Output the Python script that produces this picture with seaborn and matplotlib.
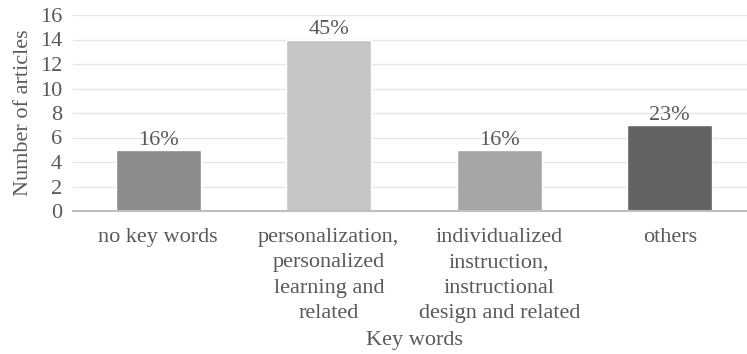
import matplotlib
matplotlib.use("Agg")
import matplotlib.pyplot as plt
import seaborn as sns
import pandas as pd

categories = [
    "no key words",
    "personalization,\npersonalized\nlearning and\nrelated",
    "individualized\ninstruction,\ninstructional\ndesign and related",
    "others",
]
counts = [5, 14, 5, 7]
percent_labels = ["16%", "45%", "16%", "23%"]
bar_colors = ["#8b8b8b", "#c6c6c6", "#a6a6a6", "#636363"]
y_ticks = [0, 2, 4, 6, 8, 10, 12, 14, 16]

sns.set_style("white")
plt.rcParams["font.family"] = ["Liberation Serif", "DejaVu Serif"]
text_color = "#595959"
fs = 16

df = pd.DataFrame({"keyword": categories, "count": counts})

fig = plt.figure(figsize=(7.47, 3.54), dpi=100)
ax = fig.add_axes([73 / 747, 1 - 211 / 354, (755 - 73) / 747, (211 - 15) / 354])

sns.barplot(data=df, x="keyword", y="count", hue="keyword", palette=bar_colors,
            width=0.5, legend=False, ax=ax, saturation=1)

ax.set_xlim(-0.5, 3.5)
ax.set_ylim(0, 16)
ax.set_yticks(y_ticks)
ax.yaxis.grid(True, color="#e6e6e6", linewidth=1)
ax.set_axisbelow(True)
for side in ["top", "right", "left"]:
    ax.spines[side].set_visible(False)
ax.spines["bottom"].set_color("#bfbfbf")
ax.spines["bottom"].set_linewidth(1.5)

ax.tick_params(axis="both", length=0, labelsize=fs, colors=text_color)
ax.tick_params(axis="y", pad=8)
ax.tick_params(axis="x", pad=12)
for lbl in ax.get_xticklabels():
    lbl.set_linespacing(1.46)

ax.set_ylabel("Number of articles", fontsize=fs, color=text_color, labelpad=5)
ax.set_xlabel("Key words", fontsize=fs, color=text_color, labelpad=6)

for i, (v, t) in enumerate(zip(counts, percent_labels)):
    ax.annotate(t, (i, v), xytext=(0, 0), textcoords="offset points",
                ha="center", va="bottom", fontsize=fs, color=text_color)

fig.savefig("out.png", dpi=100)
